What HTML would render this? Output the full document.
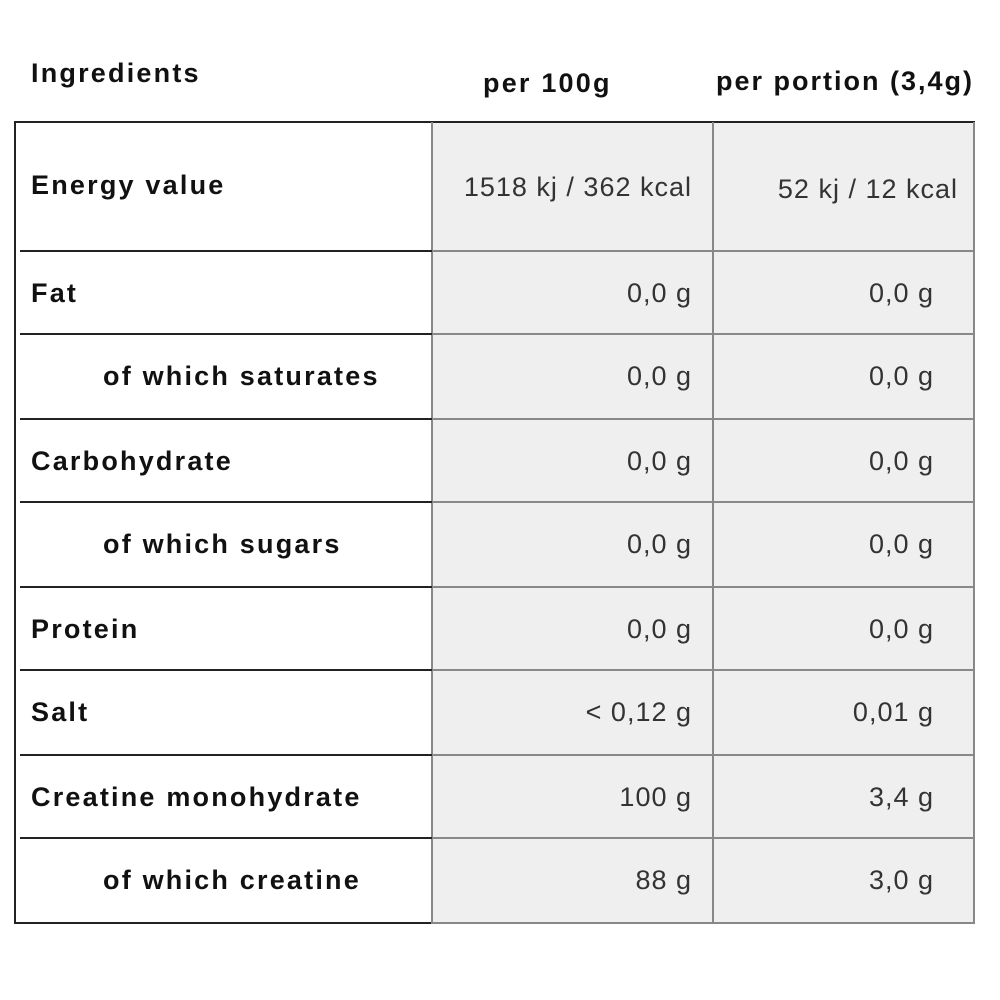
<!DOCTYPE html>
<html><head><style>
body{margin:0;width:1000px;height:1000px;background:#fff;position:relative;font-family:"Liberation Sans",sans-serif;overflow:hidden}
.a{position:absolute;white-space:nowrap}
.h{font-weight:bold;font-size:27px;color:#111;letter-spacing:2.2px}
.l{font-weight:bold;font-size:27px;color:#111;left:31px;letter-spacing:2.2px}
.i{left:103px}
.v{font-size:27px;color:#333;text-align:right;letter-spacing:1px}
.c1{right:308px}.c2{right:66px}
.hl{position:absolute;height:2px;background:#222;left:20px;width:412px}
.gl{position:absolute;height:2px;background:#888;left:432px;width:543px}
</style></head><body>
<div class="a h" style="left:31px;top:58px">Ingredients</div>
<div class="a h" style="left:483px;top:68px">per 100g</div>
<div class="a h" style="left:716px;top:66px;letter-spacing:2px">per portion (3,4g)</div>
<div class="a" style="left:432px;top:122px;width:543px;height:802px;background:#efefef"></div>
<div class="a" style="left:14px;top:121px;width:961px;height:2px;background:#222"></div>
<div class="a" style="left:14px;top:121px;width:2px;height:803px;background:#222"></div>
<div class="a" style="left:14px;top:922px;width:418px;height:2px;background:#222"></div>
<div class="a" style="left:432px;top:922px;width:543px;height:2px;background:#888"></div>
<div class="a" style="left:431px;top:122px;width:2px;height:802px;background:#888"></div>
<div class="a" style="left:712px;top:122px;width:2px;height:802px;background:#888"></div>
<div class="a" style="left:973px;top:122px;width:2px;height:802px;background:#888"></div>
<div class="hl" style="top:250px"></div><div class="gl" style="top:250px"></div>
<div class="hl" style="top:333px"></div><div class="gl" style="top:333px"></div>
<div class="hl" style="top:418px"></div><div class="gl" style="top:418px"></div>
<div class="hl" style="top:501px"></div><div class="gl" style="top:501px"></div>
<div class="hl" style="top:586px"></div><div class="gl" style="top:586px"></div>
<div class="hl" style="top:669px"></div><div class="gl" style="top:669px"></div>
<div class="hl" style="top:754px"></div><div class="gl" style="top:754px"></div>
<div class="hl" style="top:837px"></div><div class="gl" style="top:837px"></div>

<div class="a l" style="top:170px">Energy value</div>
<div class="a v c1" style="top:172px">1518 kj / 362 kcal</div>
<div class="a v" style="right:42px;top:174px">52 kj / 12 kcal</div>

<div class="a l" style="top:278px">Fat</div>
<div class="a v c1" style="top:278px">0,0 g</div><div class="a v c2" style="top:278px">0,0 g</div>

<div class="a l i" style="top:361px">of which saturates</div>
<div class="a v c1" style="top:361px">0,0 g</div><div class="a v c2" style="top:361px">0,0 g</div>

<div class="a l" style="top:446px">Carbohydrate</div>
<div class="a v c1" style="top:446px">0,0 g</div><div class="a v c2" style="top:446px">0,0 g</div>

<div class="a l i" style="top:529px">of which sugars</div>
<div class="a v c1" style="top:529px">0,0 g</div><div class="a v c2" style="top:529px">0,0 g</div>

<div class="a l" style="top:614px">Protein</div>
<div class="a v c1" style="top:614px">0,0 g</div><div class="a v c2" style="top:614px">0,0 g</div>

<div class="a l" style="top:697px">Salt</div>
<div class="a v c1" style="top:697px">&lt; 0,12 g</div><div class="a v c2" style="top:697px">0,01 g</div>

<div class="a l" style="top:782px">Creatine monohydrate</div>
<div class="a v c1" style="top:782px">100 g</div><div class="a v c2" style="top:782px">3,4 g</div>

<div class="a l i" style="top:865px">of which creatine</div>
<div class="a v c1" style="top:865px">88 g</div><div class="a v c2" style="top:865px">3,0 g</div>
</body></html>
